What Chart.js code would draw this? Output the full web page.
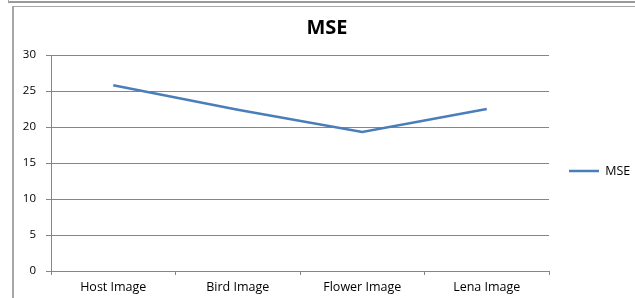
<!DOCTYPE html>
<html>
<head>
<meta charset="utf-8">
<script src="https://cdn.jsdelivr.net/npm/chart.js@4/dist/chart.umd.min.js"></script>
<style>
  html, body { margin: 0; padding: 0; background: #fff; }
  #wrap { position: relative; width: 635px; height: 298px; overflow: hidden; }
  #c { position: absolute; left: 0; top: 0; }
  .ln { position: absolute; background: #a6a6a6; }
</style>
</head>
<body>
<div id="wrap">
  <canvas id="c" width="635" height="298"></canvas>
  <div class="ln" style="left:8px;top:1px;width:627px;height:2px;background:#9a9a9a"></div>
  <div class="ln" style="left:8px;top:0px;width:1px;height:2px;"></div>
  <div class="ln" style="left:13px;top:6px;width:622px;height:1px;"></div>
  <div class="ln" style="left:12px;top:6px;width:2px;height:292px;"></div>
</div>
<script>
const categories = ["Host Image", "Bird Image", "Flower Image", "Lena Image"];
const mseValues = [25.8, 22.4, 19.3, 22.5];
const seriesName = "MSE";
const titleText = "MSE";

const FONT = "'Open Sans', sans-serif";

const legendPlacePlugin = {
  id: 'legendPlace',
  afterInit(chart) {
    const lg = chart.legend;
    if (lg) {
      const orig = lg.fit;
      lg.fit = function () { orig.call(this); this.width = 86; };
    }
  },
  afterLayout(chart) {
    const lg = chart.legend;
    if (lg) { lg.top += 17; lg.bottom += 17; }
  }
};

new Chart(document.getElementById('c'), {
  type: 'line',
  data: {
    labels: categories,
    datasets: [{
      label: seriesName,
      data: mseValues,
      borderColor: '#4a7ebb',
      backgroundColor: '#4a7ebb',
      borderWidth: 2.5,
      pointRadius: 0,
      tension: 0,
      fill: false
    }]
  },
  options: {
    responsive: false,
    animation: false,
    devicePixelRatio: 1,
    layout: { padding: { left: 19, right: 0, top: 10, bottom: 0 } },
    plugins: {
      title: {
        display: true,
        text: titleText,
        color: '#000',
        font: { family: FONT, size: 20, weight: 'bold' },
        padding: { top: 6, bottom: 15 }
      },
      legend: {
        position: 'right',
        labels: {
          usePointStyle: true,
          pointStyle: 'line',
          pointStyleWidth: 30,
          padding: 20,
          color: '#000',
          font: { family: FONT, size: 12.5 }
        }
      },
      tooltip: { enabled: false }
    },
    scales: {
      x: {
        offset: true,
        grid: {
          offset: true,
          drawOnChartArea: false,
          drawTicks: true,
          tickLength: 4,
          color: '#868686'
        },
        border: { color: '#868686', width: 1 },
        ticks: {
          color: '#000',
          font: { family: FONT, size: 12.5 },
          padding: 5,
          maxRotation: 0
        },
        afterFit(scale) { scale.height = 27; }
      },
      y: {
        min: 0,
        max: 30,
        ticks: {
          stepSize: 5,
          color: '#000',
          font: { family: FONT, size: 11.5 },
          padding: 10
        },
        grid: {
          color: '#868686',
          tickLength: 5,
          drawTicks: true
        },
        border: { color: '#868686', width: 1 },
        afterFit(scale) { scale.width = 32; }
      }
    }
  },
  plugins: [legendPlacePlugin]
});
</script>
</body>
</html>
